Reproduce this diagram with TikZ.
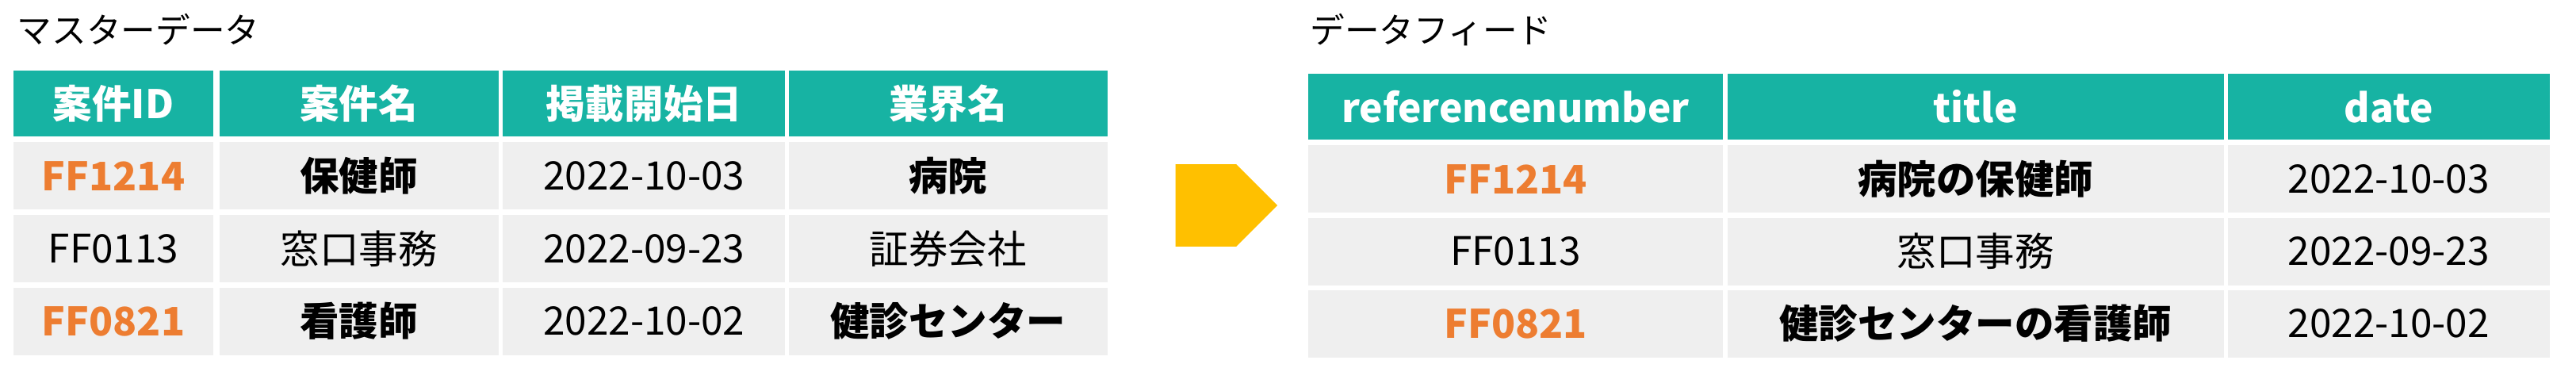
\documentclass[tikz,border=0pt]{standalone}
\usepackage{fontspec}
\setmainfont{Noto Sans CJK JP}
\usetikzlibrary{shapes.arrows}
\definecolor{teal1}{HTML}{17B3A3}
\definecolor{gray1}{HTML}{EFEFEF}
\definecolor{orange1}{HTML}{ED7D31}
\definecolor{gold1}{HTML}{FFC000}
\tikzset{
	hcell/.style={rectangle,fill=teal1,text=white,font=\fontsize{34}{40}\selectfont\bfseries,inner sep=0pt},
	bcell/.style={rectangle,fill=gray1,font=\fontsize{34}{40}\selectfont,inner sep=0pt},
	idcell/.style={bcell,text=orange1,font=\fontsize{34}{40}\selectfont\bfseries},
	bold/.style={font=\fontsize{34}{40}\selectfont\bfseries}
}
\begin{document}
\begin{tikzpicture}[x=0.05cm,y=-0.05cm]
		\useasboundingbox (0,0) rectangle (1568,235.5);
%		left table
		\path (8,18) node(master) [right,font=\fontsize{30}{36}\selectfont] {マスターデータ};
		\path (69,63) node(h1) [hcell,minimum width=6.1cm,minimum height=2cm] {案件ID};
		\path (218.5,63) node(h2) [hcell,minimum width=8.5cm,minimum height=2cm] {案件名};
		\path (392,63) node(h3) [hcell,minimum width=8.6cm,minimum height=2cm] {掲載開始日};
		\path (577,63) node(h4) [hcell,minimum width=9.7cm,minimum height=2cm] {業界名};
		\path (69,107) node(a1) [idcell,minimum width=6.1cm,minimum height=2.05cm] {FF1214};
		\path (218.5,107) node(a2) [bcell,bold,minimum width=8.5cm,minimum height=2.05cm] {保健師};
		\path (392,107) node(a3) [bcell,minimum width=8.6cm,minimum height=2.05cm] {2022-10-03};
		\path (577,107) node(a4) [bcell,bold,minimum width=9.7cm,minimum height=2.05cm] {病院};
		\path (69,151.5) node(b1) [bcell,minimum width=6.1cm,minimum height=2.05cm] {FF0113};
		\path (218.5,151.5) node(b2) [bcell,minimum width=8.5cm,minimum height=2.05cm] {窓口事務};
		\path (392,151.5) node(b3) [bcell,minimum width=8.6cm,minimum height=2.05cm] {2022-09-23};
		\path (577,151.5) node(b4) [bcell,minimum width=9.7cm,minimum height=2.05cm] {証券会社};
		\path (69,195.5) node(c1) [idcell,minimum width=6.1cm,minimum height=2.05cm] {FF0821};
		\path (218.5,195.5) node(c2) [bcell,bold,minimum width=8.5cm,minimum height=2.05cm] {看護師};
		\path (392,195.5) node(c3) [bcell,minimum width=8.6cm,minimum height=2.05cm] {2022-10-02};
		\path (577,195.5) node(c4) [bcell,bold,minimum width=9.7cm,minimum height=2.05cm] {健診センター};
%		arrow
		\path (734,125) node(arrow) [single arrow,fill=gold1,minimum width=2.5cm,minimum height=3.1cm,single arrow head extend=0cm,inner sep=0pt] {};
%		right table
		\path (795,18) node(feed) [right,font=\fontsize{30}{36}\selectfont] {データフィード};
		\path (922.5,65) node(rh1) [hcell,minimum width=12.6cm,minimum height=2cm] {referencenumber};
		\path (1202.5,65) node(rh2) [hcell,minimum width=15.1cm,minimum height=2cm] {title};
		\path (1454,65) node(rh3) [hcell,minimum width=9.8cm,minimum height=2cm] {date};
		\path (922.5,109) node(ra1) [idcell,minimum width=12.6cm,minimum height=2.05cm] {FF1214};
		\path (1202.5,109) node(ra2) [bcell,bold,minimum width=15.1cm,minimum height=2.05cm] {病院の保健師};
		\path (1454,109) node(ra3) [bcell,minimum width=9.8cm,minimum height=2.05cm] {2022-10-03};
		\path (922.5,153) node(rb1) [bcell,minimum width=12.6cm,minimum height=2.05cm] {FF0113};
		\path (1202.5,153) node(rb2) [bcell,minimum width=15.1cm,minimum height=2.05cm] {窓口事務};
		\path (1454,153) node(rb3) [bcell,minimum width=9.8cm,minimum height=2.05cm] {2022-09-23};
		\path (922.5,197) node(rc1) [idcell,minimum width=12.6cm,minimum height=2.05cm] {FF0821};
		\path (1202.5,197) node(rc2) [bcell,bold,minimum width=15.1cm,minimum height=2.05cm] {健診センターの看護師};
		\path (1454,197) node(rc3) [bcell,minimum width=9.8cm,minimum height=2.05cm] {2022-10-02};
	\end{tikzpicture}
\end{document}
